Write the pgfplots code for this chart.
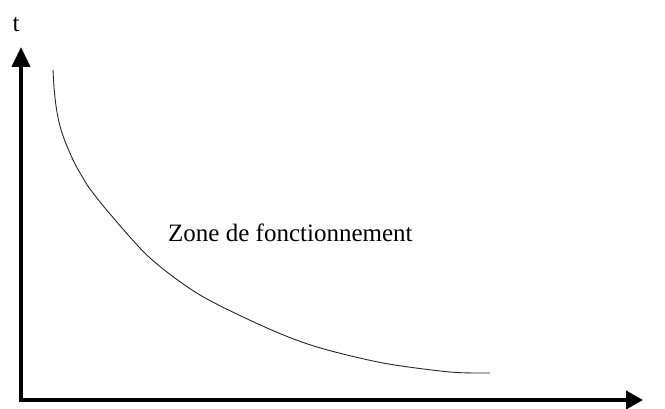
\documentclass[border=0pt]{standalone}
\usepackage{pgfplots}
\pgfplotsset{compat=1.18}
\usepackage{fontspec}
\setmainfont{Liberation Serif}
\usetikzlibrary{arrows.meta}
\begin{document}
\begin{tikzpicture}
\begin{axis}[
  scale only axis, width=665bp, height=408bp,
  xmin=-21, xmax=644, ymin=-8, ymax=400,
  hide axis, clip=false,
]
\path (rel axis cs:0,0) rectangle (rel axis cs:1,1);
\draw[line width=4bp, -{Triangle[width=18bp,length=20bp]}] (axis cs:0,-2) -- (axis cs:0,353);
\draw[line width=4bp, -{Triangle[width=18bp,length=17bp]}] (axis cs:-2,0) -- (axis cs:622,0);
\addplot[black!85, line width=0.9bp, smooth, tension=0.5] coordinates {
(32,330) (33,313) (34.5,298) (36.5,285) (39.5,272) (43.5,260) (48.5,248) (54,236) (62,222) (69,211) (89,186) (129,142) (179,105) (246,72) (296,53) (362,37) (429,28) (469,27)
};
\node[font=\fontsize{25bp}{30bp}\selectfont, anchor=center] at (axis cs:-5,375) {t};
\node[font=\fontsize{25bp}{30bp}\selectfont, anchor=base west, inner sep=0pt] at (axis cs:147,158) {Zone de fonctionnement};
\end{axis}
\end{tikzpicture}
\end{document}
